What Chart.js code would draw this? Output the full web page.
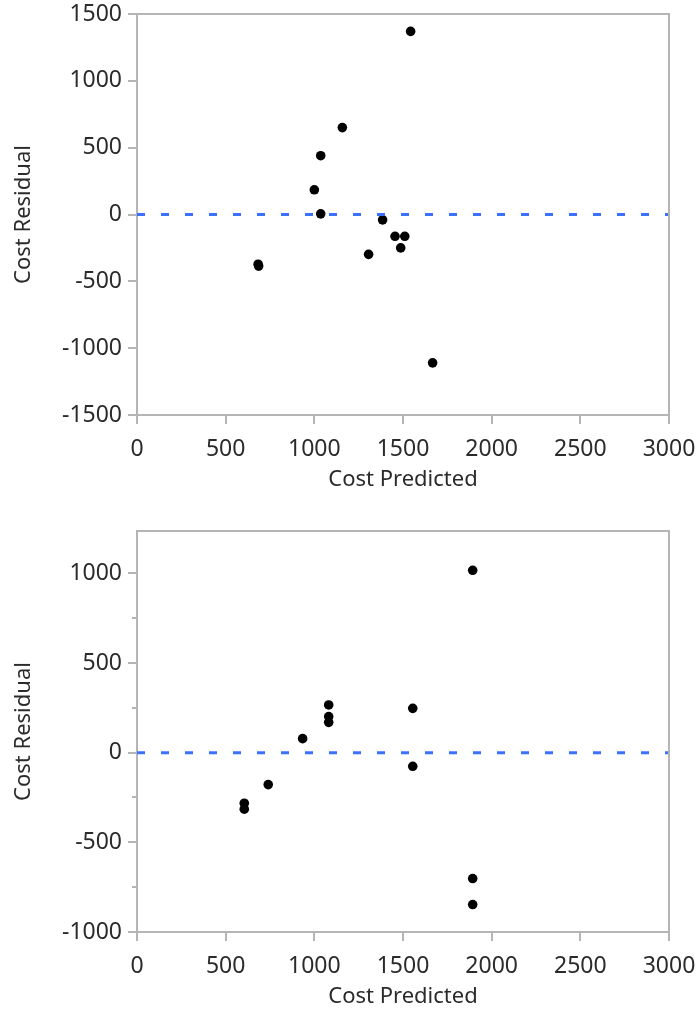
<!DOCTYPE html>
<html>
<head>
<meta charset="utf-8">
<script src="https://cdn.jsdelivr.net/npm/chart.js@4/dist/chart.umd.min.js"></script>
<style>
    html, body { margin:0; padding:0; background:#fff; }
    .box { position:absolute; left:0; width:696px; height:497px; }
    #topBox { top:0; }
    #bottomBox { top:517px; }
</style>
</head>
<body>
<div class="box" id="topBox"><canvas id="residualTop"></canvas></div>
<div class="box" id="bottomBox"><canvas id="residualBottom"></canvas></div>
<script>
// first model: predicted cost vs residual
const topPredicted = [1543, 1158, 1036, 1000, 1036, 1385, 1455, 1510, 1487, 1306, 1667, 683, 686];
const topResidual  = [1370, 650, 440, 185, 5, -40, -163, -163, -250, -298, -1110, -372, -386];

// second model
const bottomPredicted = [1893, 1081, 1081, 1081, 1555, 934, 1555, 1893, 1893, 740, 605, 605];
const bottomResidual  = [1017, 266, 201, 169, 247, 78, -76, -702, -847, -178, -282, -315];

const xTicks = [0, 500, 1000, 1500, 2000, 2500, 3000];
const topYTicks = [-1500, -1000, -500, 0, 500, 1000, 1500];
const bottomYTicks = [-1000, -500, 0, 500, 1000];
const bottomYMinor = [-750, -250, 250, 750];

const AXIS_GREY = "#b5b5b5";
const TEXT = "#2b2b2b";
const FONT = "'Noto Sans', sans-serif";

function toPoints(xs, ys){
    return xs.map((x, i) => ({ x, y: ys[i] }));
}

// grey frame on top/right plus optional minor ticks on y
const framePlugin = {
    id:"frame",
    afterDraw(chart, args, opts){
        const { ctx, chartArea:a } = chart;
        ctx.save();
        ctx.strokeStyle = AXIS_GREY;
        ctx.lineWidth = 2;
        ctx.beginPath();
        ctx.moveTo(a.left, a.top);
        ctx.lineTo(a.right, a.top);
        ctx.lineTo(a.right, a.bottom);
        ctx.stroke();
        const minor = opts.minor || [];
        const y = chart.scales.y;
        minor.forEach((v) => {
            const py = Math.round(y.getPixelForValue(v));
            ctx.beginPath();
            ctx.moveTo(a.left - 5, py);
            ctx.lineTo(a.left, py);
            ctx.stroke();
        });
        ctx.restore();
    }
};

const plainNumber = (v) => String(v);

// keep the plot box fixed: no extra room for overhanging tick labels
function noOverhang(scale){
    scale.paddingTop = 0;
    scale.paddingBottom = 0;
    scale.paddingLeft = 0;
    scale.paddingRight = 0;
}

function buildChart(id, xs, ys, yMin, yMax, yTicks, minor){
    const ctx = document.getElementById(id).getContext("2d");
    return new Chart(ctx,{
        type:"scatter",
        data:{
            datasets:[
                {
                    type:"line",
                    data:[{ x:0, y:0 }, { x:3000, y:0 }],
                    borderColor:"#3a72ff",
                    borderWidth:3,
                    borderDash:[8, 16],
                    pointRadius:0,
                    fill:false
                },
                {
                    data:toPoints(xs, ys),
                    backgroundColor:"#000",
                    borderColor:"#000",
                    pointRadius:4.8,
                    borderWidth:0
                }
            ]
        },
        options:{
            responsive:true,
            maintainAspectRatio:false,
            animation:false,
            layout:{ padding:{ top:14, right:27, left:0, bottom:0 } },
            plugins:{
                legend:{ display:false },
                tooltip:{ enabled:false },
                frame:{ minor }
            },
            scales:{
                x:{
                    type:"linear",
                    min:0,
                    max:3000,
                    afterBuildTicks:(scale) => { scale.ticks = xTicks.map((v) => ({ value:v })); },
                    afterFit:(scale) => { scale.height = 82; noOverhang(scale); },
                    grid:{ drawOnChartArea:false, color:AXIS_GREY, tickLength:9, lineWidth:2 },
                    border:{ color:AXIS_GREY, width:2 },
                    ticks:{ color:TEXT, font:{ family:FONT, size:23 }, padding:12, maxRotation:0, callback:plainNumber },
                    title:{ display:true, text:"Cost Predicted", color:TEXT, font:{ family:FONT, size:22 }, padding:{ top:0, bottom:4 } }
                },
                y:{
                    type:"linear",
                    min:yMin,
                    max:yMax,
                    afterBuildTicks:(scale) => { scale.ticks = yTicks.map((v) => ({ value:v })); },
                    afterFit:(scale) => { scale.width = 137; noOverhang(scale); },
                    grid:{ drawOnChartArea:false, color:AXIS_GREY, tickLength:9, lineWidth:2 },
                    border:{ color:AXIS_GREY, width:2 },
                    ticks:{ color:TEXT, font:{ family:FONT, size:23 }, padding:6, callback:plainNumber },
                    title:{ display:true, text:"Cost Residual", color:TEXT, font:{ family:FONT, size:22 }, padding:{ top:11, bottom:0 } }
                }
            }
        },
        plugins:[framePlugin]
    });
}

buildChart("residualTop", topPredicted, topResidual, -1500, 1500, topYTicks, []);
buildChart("residualBottom", bottomPredicted, bottomResidual, -1000, 1236, bottomYTicks, bottomYMinor);
</script>
</body>
</html>
